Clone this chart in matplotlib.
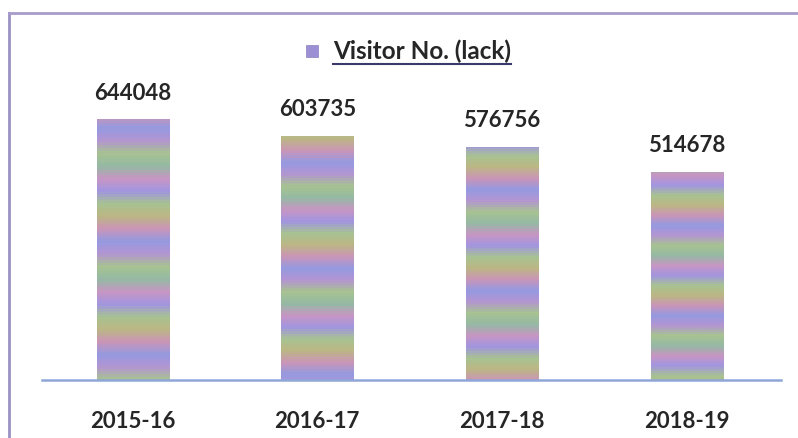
import matplotlib.pyplot as plt
import numpy as np
from matplotlib.colors import LinearSegmentedColormap
from matplotlib.lines import Line2D
from matplotlib.patches import Rectangle

years = ['2015-16', '2016-17', '2017-18', '2018-19']
visitors = [644048, 603735, 576756, 514678]
series_name = 'Visitor No. (lack)'

plt.rcParams['font.family'] = ['Lato', 'DejaVu Sans']
txt_color = '#262626'

# banded "scanned" fill for the bars
stripe_cmap = LinearSegmentedColormap.from_list(
    'bands', ['#a3c08c', '#b08fd0', '#8f95e0', '#c88fb4', '#b9b37e',
              '#a3c08c', '#9c8fe0', '#c690c0', '#8fb6a0', '#a3c08c'])

fig = plt.figure(figsize=(7.98, 4.38), dpi=100)
ax = fig.add_axes([42/798, 58/438, (781-42)/798, (425-58)/438])

x = np.arange(len(years))
width = 0.39
bars = ax.bar(x, visitors, width=width, color='none', edgecolor='none')

for i, b in enumerate(bars):
    rows = np.linspace(0, 1, 400)
    band = (rows * 2.3 + 0.17 * i) % 1.0
    band = band + 0.015 * np.sin(rows * 600)
    img = np.clip(band, 0, 1)[:, None]
    ax.imshow(img, cmap=stripe_cmap, aspect='auto', origin='lower',
              extent=(b.get_x(), b.get_x() + b.get_width(), 0, b.get_height()),
              vmin=0, vmax=1, alpha=0.95, zorder=2)
    ax.text(b.get_x() + b.get_width()/2, b.get_height() + 40000, f'{visitors[i]}',
            ha='center', va='bottom', fontsize=16, fontweight='bold', color=txt_color)

ax.set_xlim(-0.49, 3.51)
ax.set_ylim(0, 909000)
ax.set_xticks(x)
ax.set_xticklabels(years, fontsize=16, fontweight='bold', color=txt_color)
ax.tick_params(axis='x', length=0, pad=22)
ax.set_yticks([])
for s in ['top', 'right', 'left']:
    ax.spines[s].set_visible(False)
ax.spines['bottom'].set_color('#8fa6d8')
ax.spines['bottom'].set_linewidth(1.8)

# legend: square + underlined bold title
fig.patches.append(Rectangle((306/798, (438-57)/438), 12/798, 12/438,
                             transform=fig.transFigure, facecolor='#9d8fd4',
                             edgecolor='#8c80c0', linewidth=0.5))
leg = fig.text(333/798, (438-51)/438, series_name, ha='left', va='center',
               fontsize=17.5, fontweight='bold', color=txt_color)
fig.canvas.draw()
bb = leg.get_window_extent().transformed(fig.transFigure.inverted())
fig.add_artist(Line2D([bb.x0, bb.x1], [bb.y0 - 0.002, bb.y0 - 0.002],
                      transform=fig.transFigure, color='#3b3b6b', linewidth=1.5))

# frame from the scanned page
fig.add_artist(Line2D([9/798, 9/798], [0, (438-13)/438], transform=fig.transFigure,
                      color='#9a92c4', linewidth=2))
fig.add_artist(Line2D([9/798, 1], [(438-13)/438, (438-13)/438], transform=fig.transFigure,
                      color='#a99ccc', linewidth=2))

fig.savefig('out.png', dpi=100)
